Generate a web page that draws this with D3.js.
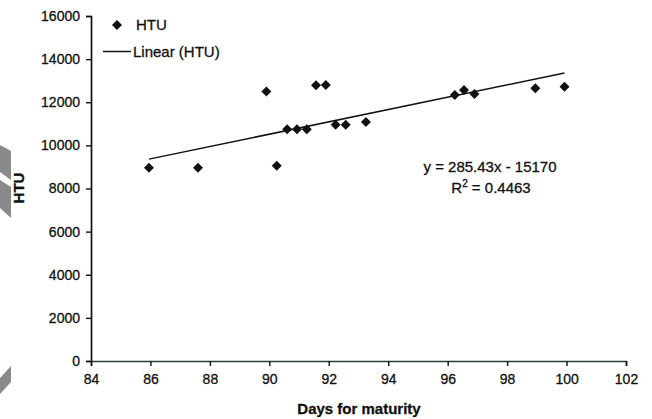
<!DOCTYPE html>
<html>
<head>
<meta charset="utf-8">
<script src="https://cdn.jsdelivr.net/npm/d3@7"></script>
<style>
  body { margin: 0; background: #fff; }
  svg text { font-family: "Liberation Sans", Arial, sans-serif; fill: #111; stroke: #111; stroke-width: 0.3px; }
</style>
</head>
<body>
<div id="chart"></div>
<script>
// data
var days = [85.95, 87.6, 89.9, 90.25, 90.6, 90.93, 91.26, 91.57, 91.9, 92.23, 92.57, 93.25, 96.24, 96.55, 96.9, 98.95, 99.93];
var htu  = [8960, 8960, 12500, 9050, 10750, 10750, 10750, 12790, 12800, 10960, 10960, 11080, 12340, 12570, 12380, 12650, 12720];
var slope = 285.43;
var intercept = -15170;
var rSquared = "0.4463";
var xTicks = [84, 86, 88, 90, 92, 94, 96, 98, 100, 102];
var yTicks = [0, 2000, 4000, 6000, 8000, 10000, 12000, 14000, 16000];

var width = 652, height = 419;

var svg = d3.select("#chart").append("svg")
    .attr("width", width)
    .attr("height", height);

// scan artefacts on the left page edge
var shade = [
    [[0,145],[11,151],[11,180],[0,172]],
    [[0,180],[11,187],[11,218],[0,208]],
    [[11,366],[11,382],[0,394],[0,378]]
];
svg.selectAll("polygon.shade")
    .data(shade)
    .enter()
    .append("polygon")
    .attr("class", "shade")
    .attr("points", function(d){ return d.map(function(p){ return p.join(","); }).join(" "); })
    .attr("fill", "#8a8a8a");

var x = d3.scaleLinear().domain([84, 102]).range([91, 626]);
var y = d3.scaleLinear().domain([0, 16000]).range([361, 16]);

// y axis
var yAxis = d3.axisLeft(y).tickValues(yTicks).tickSize(5).tickPadding(6).tickFormat(d3.format("d"));
var gy = svg.append("g")
    .attr("transform", "translate(" + x(84) + ",0)")
    .call(yAxis);
gy.select(".domain").attr("stroke", "#111").attr("stroke-width", 1.7);
gy.selectAll(".tick line").attr("stroke", "#111").attr("stroke-width", 1.4);
gy.selectAll(".tick text").style("font-size", "14px").attr("fill", "#111");

// x axis
var xAxis = d3.axisBottom(x).tickValues(xTicks).tickSize(5).tickPadding(8);
var gx = svg.append("g")
    .attr("transform", "translate(0," + y(0) + ")")
    .call(xAxis);
gx.select(".domain").attr("stroke", "#2c3f2c").attr("stroke-width", 1.7);
gx.selectAll(".tick line").attr("stroke", "#111").attr("stroke-width", 1.4);
gx.selectAll(".tick text").style("font-size", "14px").attr("fill", "#111");

// trend line
var xMin = d3.min(days), xMax = d3.max(days);
svg.append("line")
    .attr("x1", x(xMin)).attr("y1", y(slope * xMin + intercept))
    .attr("x2", x(xMax)).attr("y2", y(slope * xMax + intercept))
    .attr("stroke", "#111")
    .attr("stroke-width", 1.5);

// diamonds
var diamond = "M0,-5L5,0L0,5L-5,0Z";
svg.selectAll("path.pt")
    .data(days)
    .enter()
    .append("path")
    .attr("class", "pt")
    .attr("d", diamond)
    .attr("transform", function(d, i){ return "translate(" + x(d) + "," + y(htu[i]) + ")"; })
    .attr("fill", "#111");

// legend
var legend = svg.append("g");
legend.append("path").attr("d", diamond).attr("transform", "translate(117,25)").attr("fill", "#111");
legend.append("text").attr("x", 136).attr("y", 30).style("font-size", "15px").text("HTU");
legend.append("line").attr("x1", 103).attr("x2", 131).attr("y1", 51.5).attr("y2", 51.5)
    .attr("stroke", "#111").attr("stroke-width", 1.5);
legend.append("text").attr("x", 133).attr("y", 57).style("font-size", "15px").text("Linear (HTU)");

// equation
svg.append("text")
    .attr("x", 490).attr("y", 172)
    .attr("text-anchor", "middle")
    .style("font-size", "15px")
    .text("y = " + slope + "x - " + Math.abs(intercept));
var r2 = svg.append("text")
    .attr("x", 491).attr("y", 193)
    .attr("text-anchor", "middle")
    .style("font-size", "15px");
r2.append("tspan").text("R");
r2.append("tspan").attr("dy", -6).style("font-size", "10px").text("2");
r2.append("tspan").attr("dy", 6).text(" = " + rSquared);

// axis titles
svg.append("text")
    .attr("x", 359).attr("y", 414)
    .attr("text-anchor", "middle")
    .style("font-size", "15px")
    .style("font-weight", "bold")
    .text("Days for maturity");
svg.append("text")
    .attr("transform", "translate(24,188) rotate(-90)")
    .attr("text-anchor", "middle")
    .style("font-size", "15px")
    .style("font-weight", "bold")
    .text("HTU");
</script>
</body>
</html>
